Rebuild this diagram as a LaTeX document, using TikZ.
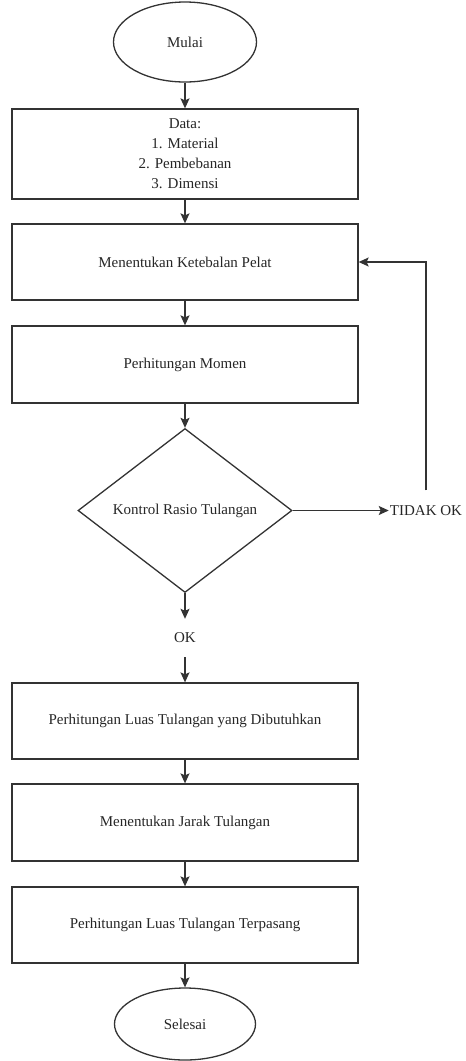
\documentclass[tikz,border=0pt]{standalone}
\usepackage{fontspec}
\setmainfont{Liberation Serif}
\usetikzlibrary{shapes.geometric,arrows.meta}
\begin{document}
\begin{tikzpicture}[x=1pt,y=-1pt,
  every node/.style={font=\fontsize{15}{20}\selectfont, text=black!85},
  line/.style={draw=black!80, line width=1.3pt},
  flow/.style={line, -{Stealth[length=10pt,width=9pt,inset=2pt]}},
  procbox/.style={line, rectangle, minimum width=346pt, inner sep=0pt, align=center},
  terminal/.style={line, ellipse, inner sep=0pt},
  decision/.style={line, diamond, inner sep=0pt, minimum width=214pt, minimum height=164pt},
  label/.style={inner xsep=1pt}
]
\useasboundingbox (0,0) rectangle (466,1061);

\node[terminal, minimum width=143pt, minimum height=80pt] (mulai) at (185,42) {Mulai};
\node[procbox, minimum height=90pt] (data) at (185,154) {Data:\\1. Material\\2. Pembebanan\\3. Dimensi};
\node[procbox, minimum height=76pt] (tebal) at (185,262) {Menentukan Ketebalan Pelat};
\node[procbox, minimum height=77pt] (momen) at (185,364.5) {Perhitungan Momen};
\node[decision] (kontrol) at (185,510.5) {Kontrol Rasio Tulangan};
\node[label, inner ysep=0pt, minimum height=38pt] (ok) at (185,638) {OK};
\node[label, inner ysep=0pt, minimum height=40pt] (tidak) at (426,510.5) {TIDAK OK};
\node[procbox, minimum height=76pt] (luas) at (185,721) {Perhitungan Luas Tulangan yang Dibutuhkan};
\node[procbox, minimum height=77pt] (jarak) at (185,822.5) {Menentukan Jarak Tulangan};
\node[procbox, minimum height=76pt] (pasang) at (185,925) {Perhitungan Luas Tulangan Terpasang};
\node[terminal, minimum width=141pt, minimum height=72pt] (selesai) at (185,1024) {Selesai};

\draw[flow] (mulai) -- (data);
\draw[flow] (data) -- (tebal);
\draw[flow] (tebal) -- (momen);
\draw[flow] (momen) -- (kontrol);
\draw[flow] (kontrol) -- (ok);
\draw[flow] (ok) -- (luas);
\draw[flow] (luas) -- (jarak);
\draw[flow] (jarak) -- (pasang);
\draw[flow] (pasang) -- (selesai);
\draw[flow] (kontrol.east) -- (tidak.west);
\draw[flow] (tidak.north) |- (tebal.east);
\end{tikzpicture}
\end{document}
